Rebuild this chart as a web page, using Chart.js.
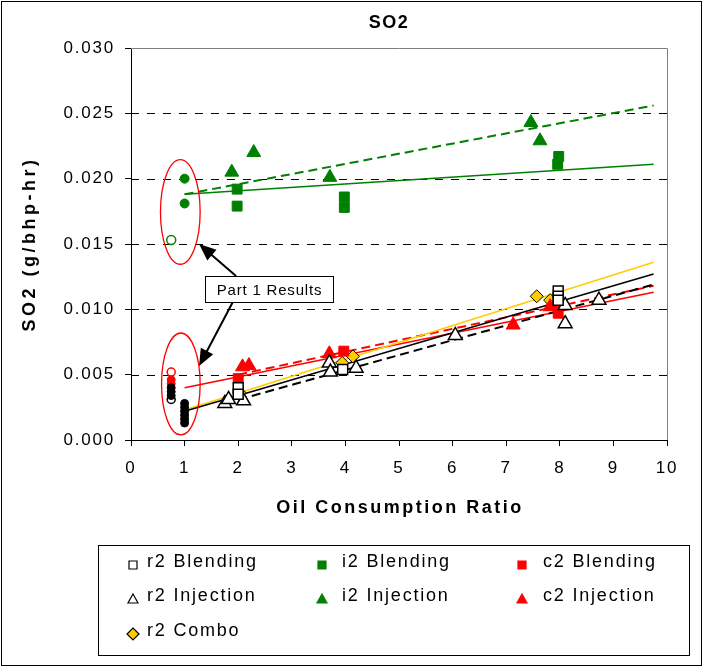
<!DOCTYPE html>
<html>
<head>
<meta charset="utf-8">
<script src="https://cdn.jsdelivr.net/npm/chart.js@4.4.0/dist/chart.umd.min.js"></script>
<style>
  html, body { margin: 0; padding: 0; background: #fff; }
  canvas { display: block; }
</style>
</head>
<body>
<canvas id="so2" width="703" height="667"></canvas>
<script>
const titleText = "SO2";
const xTitle = "Oil Consumption Ratio";
const yTitle = "SO2 (g/bhp-hr)";

// r2 (black outline markers)
const r2BlendX = [2.0, 2.0, 3.95, 7.97, 7.97, 7.97];
const r2BlendY = [0.0040, 0.0035, 0.0054, 0.0114, 0.0110, 0.0107];
const r2InjX = [1.75, 1.82, 2.1, 3.7, 3.72, 4.2, 6.05, 8.1, 8.1, 8.73];
const r2InjY = [0.0028, 0.0031, 0.0030, 0.0059, 0.0052, 0.0055, 0.0080, 0.0103, 0.0089, 0.0107];
const r2ComboX = [2.03, 3.94, 4.14, 7.57, 7.82];
const r2ComboY = [0.0036, 0.0059, 0.0064, 0.0110, 0.0107];

// i2 (green)
const i2BlendX = [1.98, 1.98, 3.98, 3.98, 7.98, 7.96];
const i2BlendY = [0.0192, 0.0179, 0.0186, 0.0178, 0.0217, 0.0211];
const i2InjX = [1.88, 2.29, 3.71, 7.46, 7.63];
const i2InjY = [0.0205, 0.0220, 0.0201, 0.0243, 0.0229];

// c2 (red)
const c2BlendX = [2.0, 3.97, 7.97, 7.97];
const c2BlendY = [0.0047, 0.0068, 0.0103, 0.0097];
const c2InjX = [2.08, 2.2, 3.7, 7.13, 7.82];
const c2InjY = [0.0056, 0.0057, 0.0066, 0.0088, 0.0102];

// part 1 results (circles, not in legend)
const p1GreenX = [1, 1];
const p1GreenY = [0.0200, 0.0181];
const p1GreenOpenX = [0.75];
const p1GreenOpenY = [0.0153];
const p1BlackX = [1, 1, 1, 1, 1, 1, 0.75, 0.75, 0.75];
const p1BlackY = [0.0013, 0.0016, 0.0019, 0.0022, 0.0025, 0.0028, 0.0034, 0.0037, 0.0040];
const p1BlackOpenX = [0.75];
const p1BlackOpenY = [0.0031];
const p1RedX = [0.75, 0.75];
const p1RedY = [0.0043, 0.0046];
const p1RedOpenX = [0.75];
const p1RedOpenY = [0.0052];

// trend lines (start, end)
const i2BlendFitX = [1, 9.75], i2BlendFitY = [0.0188, 0.0211];
const i2InjFitX = [1, 9.75], i2InjFitY = [0.0188, 0.0256];
const r2BlendFitX = [1, 9.75], r2BlendFitY = [0.0022, 0.0127];
const r2InjFitX = [1.75, 9.75], r2InjFitY = [0.0028, 0.0119];
const r2ComboFitX = [1, 9.75], r2ComboFitY = [0.0023, 0.0136];
const c2BlendFitX = [1, 9.75], c2BlendFitY = [0.0040, 0.0113];
const c2InjFitX = [2, 9.75], c2InjFitY = [0.0050, 0.0118];

const GREEN = "#008000", RED = "#FF0000", GOLD = "#FFCC00";
const FONT = "'Liberation Sans', Arial, sans-serif";

function pts(xs, ys) {
  return xs.map((x, i) => ({ x, y: ys[i] }));
}

function marks(label, xs, ys, style, fill, stroke, radius) {
  return {
    label, data: pts(xs, ys), order: 1, showLine: false,
    pointStyle: style, pointRadius: radius, pointHoverRadius: radius,
    backgroundColor: fill, borderColor: stroke, pointBorderWidth: fill === "#fff" ? 1.5 : 1
  };
}

function fit(xs, ys, color, dashed) {
  return {
    label: "", data: pts(xs, ys), order: 2, showLine: true, pointRadius: 0,
    borderColor: color, borderWidth: dashed ? 2 : 1.5, borderDash: dashed ? [9, 5] : [],
    fill: false
  };
}

const datasets = [
  fit(i2BlendFitX, i2BlendFitY, GREEN, false),
  fit(i2InjFitX, i2InjFitY, GREEN, true),
  fit(r2BlendFitX, r2BlendFitY, "#000", false),
  fit(r2InjFitX, r2InjFitY, "#000", true),
  fit(r2ComboFitX, r2ComboFitY, GOLD, false),
  fit(c2BlendFitX, c2BlendFitY, RED, false),
  fit(c2InjFitX, c2InjFitY, RED, true),
  marks("part1 green", p1GreenX, p1GreenY, "circle", GREEN, GREEN, 4.5),
  marks("part1 green open", p1GreenOpenX, p1GreenOpenY, "circle", "#fff", GREEN, 4.5),
  marks("part1 black", p1BlackX, p1BlackY, "circle", "#000", "#000", 4),
  marks("part1 black open", p1BlackOpenX, p1BlackOpenY, "circle", "#fff", "#000", 4),
  marks("part1 red", p1RedX, p1RedY, "circle", RED, RED, 4),
  marks("part1 red open", p1RedOpenX, p1RedOpenY, "circle", "#fff", RED, 4),
  marks("i2 Blending", i2BlendX, i2BlendY, "rect", GREEN, GREEN, 7),
  marks("i2 Injection", i2InjX, i2InjY, "triangle", GREEN, GREEN, 8),
  marks("r2 Blending", r2BlendX, r2BlendY, "rect", "#fff", "#000", 7),
  marks("r2 Injection", r2InjX, r2InjY, "triangle", "#fff", "#000", 8),
  marks("c2 Blending", c2BlendX, c2BlendY, "rect", RED, RED, 7),
  marks("c2 Injection", c2InjX, c2InjY, "triangle", RED, RED, 8),
  marks("r2 Combo", r2ComboX, r2ComboY, "rectRot", GOLD, "#000", 6.5),
];

const legendRows = [
  [{ label: "r2 Blending", shape: "rect", fill: "#fff", stroke: "#000" },
   { label: "i2 Blending", shape: "rect", fill: GREEN, stroke: GREEN },
   { label: "c2 Blending", shape: "rect", fill: RED, stroke: RED }],
  [{ label: "r2 Injection", shape: "triangle", fill: "#fff", stroke: "#000" },
   { label: "i2 Injection", shape: "triangle", fill: GREEN, stroke: GREEN },
   { label: "c2 Injection", shape: "triangle", fill: RED, stroke: RED }],
  [{ label: "r2 Combo", shape: "diamond", fill: GOLD, stroke: "#000" }],
];

function legendMarker(ctx, m, x, y) {
  ctx.save();
  ctx.fillStyle = m.fill;
  ctx.strokeStyle = m.stroke;
  ctx.lineWidth = 1.2;
  ctx.beginPath();
  if (m.shape === "rect") {
    ctx.rect(x - 4, y - 4, 8, 8);
  } else if (m.shape === "triangle") {
    ctx.moveTo(x, y - 5); ctx.lineTo(x + 5, y + 4); ctx.lineTo(x - 5, y + 4); ctx.closePath();
  } else {
    ctx.moveTo(x, y - 6); ctx.lineTo(x + 6, y); ctx.lineTo(x, y + 6); ctx.lineTo(x - 6, y); ctx.closePath();
  }
  ctx.fill();
  ctx.stroke();
  ctx.restore();
}

function arrow(ctx, x1, y1, x2, y2) {
  const a = Math.atan2(y2 - y1, x2 - x1);
  const len = 17, half = 7;
  ctx.save();
  ctx.strokeStyle = "#000";
  ctx.fillStyle = "#000";
  ctx.lineWidth = 2;
  ctx.beginPath();
  ctx.moveTo(x1, y1);
  ctx.lineTo(x2 - Math.cos(a) * len * 0.8, y2 - Math.sin(a) * len * 0.8);
  ctx.stroke();
  ctx.beginPath();
  ctx.moveTo(x2, y2);
  ctx.lineTo(x2 - Math.cos(a) * len - Math.sin(a) * half, y2 - Math.sin(a) * len + Math.cos(a) * half);
  ctx.lineTo(x2 - Math.cos(a) * len + Math.sin(a) * half, y2 - Math.sin(a) * len - Math.cos(a) * half);
  ctx.closePath();
  ctx.fill();
  ctx.restore();
}

// annotation anchors in data units
const ellipses = [
  { x: 0.92, y: 0.01745, rx: 0.37, ry: 0.0040 },
  { x: 0.93, y: 0.00429, rx: 0.36, ry: 0.0039 },
];
const noteBox = { x1: 1.38, x2: 3.77, y1: 0.01255, y2: 0.01056, text: "Part 1 Results" };
const noteArrows = [
  { x1: 1.96, y1: 0.01255, x2: 1.27, y2: 0.0150 },
  { x1: 1.90, y1: 0.01056, x2: 1.27, y2: 0.00566 },
];

const decor = {
  id: "decor",
  beforeDraw(chart) {
    chart.ctx.letterSpacing = "1.8px";
  },
  beforeDatasetsDraw(chart) {
    const { ctx, chartArea: a, scales: { y } } = chart;
    ctx.save();
    ctx.letterSpacing = "0px";
    ctx.strokeStyle = "#000";
    ctx.lineWidth = 1;
    ctx.setLineDash([8, 8]);
    for (let v = 0.005; v < 0.0299; v += 0.005) {
      const py = Math.round(y.getPixelForValue(v)) + 0.5;
      ctx.beginPath();
      ctx.moveTo(a.left, py);
      ctx.lineTo(a.right, py);
      ctx.stroke();
    }
    ctx.setLineDash([]);
    ctx.strokeStyle = "#808080";
    ctx.beginPath();
    ctx.moveTo(a.left, Math.round(a.top) + 0.5);
    ctx.lineTo(Math.round(a.right) + 0.5, Math.round(a.top) + 0.5);
    ctx.lineTo(Math.round(a.right) + 0.5, a.bottom);
    ctx.stroke();
    ctx.restore();
  },
  afterDatasetsDraw(chart) {
    const { ctx, scales: { x, y } } = chart;
    ctx.save();
    ctx.letterSpacing = "0px";
    ctx.strokeStyle = RED;
    ctx.lineWidth = 1.3;
    ellipses.forEach(e => {
      const cx = x.getPixelForValue(e.x), cy = y.getPixelForValue(e.y);
      const rx = x.getPixelForValue(e.x + e.rx) - cx, ry = cy - y.getPixelForValue(e.y + e.ry);
      ctx.beginPath();
      ctx.ellipse(cx, cy, rx, ry, 0, 0, Math.PI * 2);
      ctx.stroke();
    });
    noteArrows.forEach(n => arrow(ctx,
      x.getPixelForValue(n.x1), y.getPixelForValue(n.y1),
      x.getPixelForValue(n.x2), y.getPixelForValue(n.y2)));
    const bx1 = Math.round(x.getPixelForValue(noteBox.x1)) + 0.5;
    const bx2 = Math.round(x.getPixelForValue(noteBox.x2)) + 0.5;
    const by1 = Math.round(y.getPixelForValue(noteBox.y1)) + 0.5;
    const by2 = Math.round(y.getPixelForValue(noteBox.y2)) + 0.5;
    ctx.fillStyle = "#fff";
    ctx.strokeStyle = "#000";
    ctx.lineWidth = 1;
    ctx.fillRect(bx1, by1, bx2 - bx1, by2 - by1);
    ctx.strokeRect(bx1, by1, bx2 - bx1, by2 - by1);
    ctx.fillStyle = "#000";
    ctx.font = "15px " + FONT;
    ctx.letterSpacing = "0.8px";
    ctx.textAlign = "center";
    ctx.textBaseline = "middle";
    ctx.fillText(noteBox.text, (bx1 + bx2) / 2, (by1 + by2) / 2 + 1);
    ctx.restore();
  },
  afterDraw(chart) {
    const { ctx, chartArea: a } = chart;
    ctx.save();
    ctx.fillStyle = "#000";
    ctx.textAlign = "center";
    ctx.textBaseline = "middle";
    ctx.font = "bold 18px " + FONT;
    ctx.letterSpacing = "1.5px";
    ctx.fillText(titleText, 389, 23);
    ctx.letterSpacing = "2.5px";
    ctx.fillText(xTitle, (a.left + a.right) / 2 + 1, 508);
    ctx.save();
    ctx.translate(30, (a.top + a.bottom) / 2);
    ctx.rotate(-Math.PI / 2);
    ctx.letterSpacing = "3.5px";
    ctx.fillText(yTitle, 0, 0);
    ctx.restore();

    // legend box
    ctx.strokeStyle = "#000";
    ctx.lineWidth = 1;
    ctx.strokeRect(98.5, 545.5, 591, 110);
    const mx = [133, 322, 522], tx = [147, 342, 543], ry = [562, 596, 631];
    ctx.font = "18px " + FONT;
    ctx.letterSpacing = "1.8px";
    ctx.textAlign = "left";
    legendRows.forEach((row, r) => row.forEach((m, c) => {
      legendMarker(ctx, m, mx[c], ry[r] + 3);
      ctx.fillStyle = "#000";
      ctx.fillText(m.label, tx[c], ry[r]);
    }));

    // outer frame
    ctx.strokeRect(1.5, 1.5, 700, 664);
    ctx.restore();
  }
};

new Chart(document.getElementById("so2"), {
  type: "scatter",
  data: { datasets },
  options: {
    responsive: false,
    animation: false,
    layout: { padding: { top: 48, right: 36, bottom: 0, left: 0 } },
    plugins: { legend: { display: false }, tooltip: { enabled: false }, title: { display: false } },
    scales: {
      x: {
        type: "linear", min: 0, max: 10,
        afterFit: s => { s.height = 227; },
        ticks: { stepSize: 1, color: "#000", padding: 12, font: { family: FONT, size: 17 } },
        grid: { drawOnChartArea: false, drawTicks: true, tickLength: 6, color: "#000" },
        border: { display: true, color: "#000", width: 1 }
      },
      y: {
        type: "linear", min: 0, max: 0.030,
        afterFit: s => { s.width = 131; },
        ticks: { stepSize: 0.005, color: "#000", padding: 10, font: { family: FONT, size: 17 },
                 callback: v => v.toFixed(3) },
        grid: { drawOnChartArea: false, drawTicks: true, tickLength: 6, color: "#000" },
        border: { display: true, color: "#000", width: 1 }
      }
    }
  },
  plugins: [decor]
});
</script>
</body>
</html>
